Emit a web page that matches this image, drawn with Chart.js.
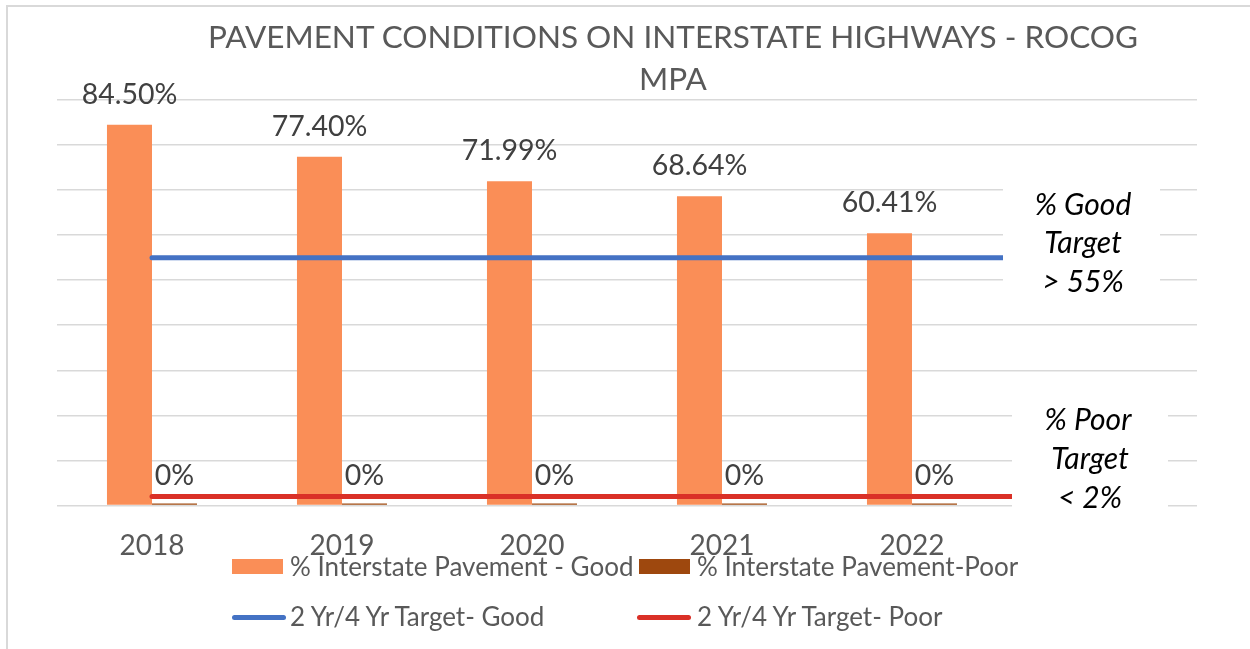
<!DOCTYPE html>
<html>
<head>
<meta charset="utf-8">
<script src="https://cdn.jsdelivr.net/npm/chart.js@4.4.1/dist/chart.umd.min.js"></script>
<style>
  body { margin: 0; background: #fff; }
  #wrap { position: relative; width: 1250px; height: 649px; overflow: hidden; font-family: Lato, sans-serif; }
  #frame { position: absolute; left: 6px; top: 5px; width: 1400px; height: 800px; border: 2px solid #d9d9d9; box-sizing: border-box; }
  #title { position: absolute; left: 173px; top: 15px; width: 1000px; text-align: center; font-size: 31.5px; line-height: 42px; color: #595959; }
  .lg { position: absolute; font-size: 26px; color: #595959; line-height: 30px; white-space: nowrap; }
  .sw { position: absolute; }
  canvas { position: absolute; left: 0; top: 0; }
</style>
</head>
<body>
<div id="wrap">
  <div id="frame"></div>
  <canvas id="chart" width="1250" height="649"></canvas>
  <div id="title">PAVEMENT CONDITIONS ON INTERSTATE HIGHWAYS - ROCOG<br>MPA</div>
  <div id="legend"></div>
</div>
<script>
// years, plus an empty slot at the right where the target notes sit
const years = ['2018', '2019', '2020', '2021', '2022', ''];
const goodPct = [84.50, 77.40, 71.99, 68.64, 60.41, null];
const poorPct = [0, 0, 0, 0, 0, null];
const targetGood = [55, 55, 55, 55, 55, 55];
const targetPoor = [2, 2, 2, 2, 2, 2];
const yTicks = [0, 10, 20, 30, 40, 50, 60, 70, 80, 90];

const orange = '#FA8E57';
const brown = '#9E480E';
const blue = '#4472C4';
const red = '#DA3027';

// value labels above the bars
const barLabels = {
    id: 'barLabels',
    afterDatasetsDraw(chart) {
        const ctx = chart.ctx;
        ctx.save();
        ctx.font = '28.5px Lato';
        ctx.fillStyle = '#404040';
        ctx.textAlign = 'center';
        ctx.textBaseline = 'middle';
        [0, 1].forEach(function (di) {
            const meta = chart.getDatasetMeta(di);
            const data = chart.data.datasets[di].data;
            meta.data.forEach(function (bar, i) {
                if (data[i] === null) return;
                const txt = di === 0 ? data[i].toFixed(2) + '%' : data[i].toFixed(0) + '%';
                const top = di === 0 ? bar.y : chart.scales.y.getPixelForValue(0);
                ctx.fillText(txt, bar.x, top - 30);
            });
        });
        ctx.restore();
    }
};

// the two italic target notes on white boxes at the right
const targetNotes = {
    id: 'targetNotes',
    afterDatasetsDraw(chart) {
        const ctx = chart.ctx;
        ctx.save();
        ctx.fillStyle = '#fff';
        ctx.fillRect(1003, 183, 157, 118);
        ctx.fillRect(1012, 400, 156, 115);
        ctx.font = 'italic 30px Lato';
        ctx.fillStyle = '#000';
        ctx.textAlign = 'center';
        ctx.textBaseline = 'middle';
        ctx.fillText('% Good', 1083, 205);
        ctx.fillText('Target', 1083, 243);
        ctx.fillText('> 55%', 1083, 282);
        ctx.fillText('% Poor', 1088, 420);
        ctx.fillText('Target', 1090, 459);
        ctx.fillText('< 2%', 1090, 498);
        ctx.restore();
    }
};

const chart = new Chart(document.getElementById('chart'), {
    type: 'bar',
    data: {
        labels: years,
        datasets: [{
            label: '% Interstate Pavement - Good',
            data: goodPct,
            backgroundColor: orange,
            categoryPercentage: 0.474,
            barPercentage: 1,
            order: 2
        }, {
            label: '% Interstate Pavement-Poor',
            data: poorPct,
            backgroundColor: brown,
            borderColor: '#D9A27E',
            categoryPercentage: 0.474,
            barPercentage: 1,
            minBarLength: 2,
            order: 2
        }, {
            type: 'line',
            label: '2 Yr/4 Yr Target- Good',
            data: targetGood,
            borderColor: blue,
            backgroundColor: blue,
            borderWidth: 5,
            borderCapStyle: 'round',
            pointRadius: 0,
            order: 1
        }, {
            type: 'line',
            label: '2 Yr/4 Yr Target- Poor',
            data: targetPoor,
            borderColor: red,
            backgroundColor: red,
            borderWidth: 5,
            borderCapStyle: 'round',
            pointRadius: 0,
            order: 1
        }]
    },
    options: {
        responsive: false,
        animation: false,
        layout: { padding: { left: 57, right: 53, top: 100, bottom: 62 } },
        plugins: {
            legend: { display: false },
            title: { display: false },
            tooltip: { enabled: false }
        },
        scales: {
            x: {
                grid: { display: false, drawTicks: false },
                border: { display: false },
                ticks: { color: '#595959', font: { family: 'Lato', size: 28 }, padding: 24 }
            },
            y: {
                min: yTicks[0],
                max: yTicks[yTicks.length - 1],
                afterBuildTicks: function (axis) { axis.ticks = yTicks.map(v => ({ value: v })); },
                grid: { color: '#d9d9d9', lineWidth: 1.5, drawTicks: false },
                border: { display: false },
                ticks: { display: false }
            }
        }
    },
    plugins: [barLabels, targetNotes]
});

// legend laid out like the original, two rows of two
const legend = document.getElementById('legend');
const slots = [[232, 559, 290], [639, 559, 697], [232, 609, 290], [637, 609, 697]];
chart.data.datasets.forEach(function (ds, i) {
    const s = slots[i];
    const sw = document.createElement('div');
    sw.className = 'sw';
    if (ds.type === 'line') {
        sw.style.cssText = 'left:' + s[0] + 'px;top:' + (s[1] + 6) + 'px;width:54px;height:5px;border-radius:3px;background:' + ds.borderColor;
    } else {
        sw.style.cssText = 'left:' + s[0] + 'px;top:' + s[1] + 'px;width:51px;height:15px;background:' + ds.backgroundColor;
    }
    legend.appendChild(sw);
    const t = document.createElement('div');
    t.className = 'lg';
    t.style.left = s[2] + 'px';
    t.style.top = (s[1] - 8) + 'px';
    t.textContent = ds.label;
    legend.appendChild(t);
});
</script>
</body>
</html>
